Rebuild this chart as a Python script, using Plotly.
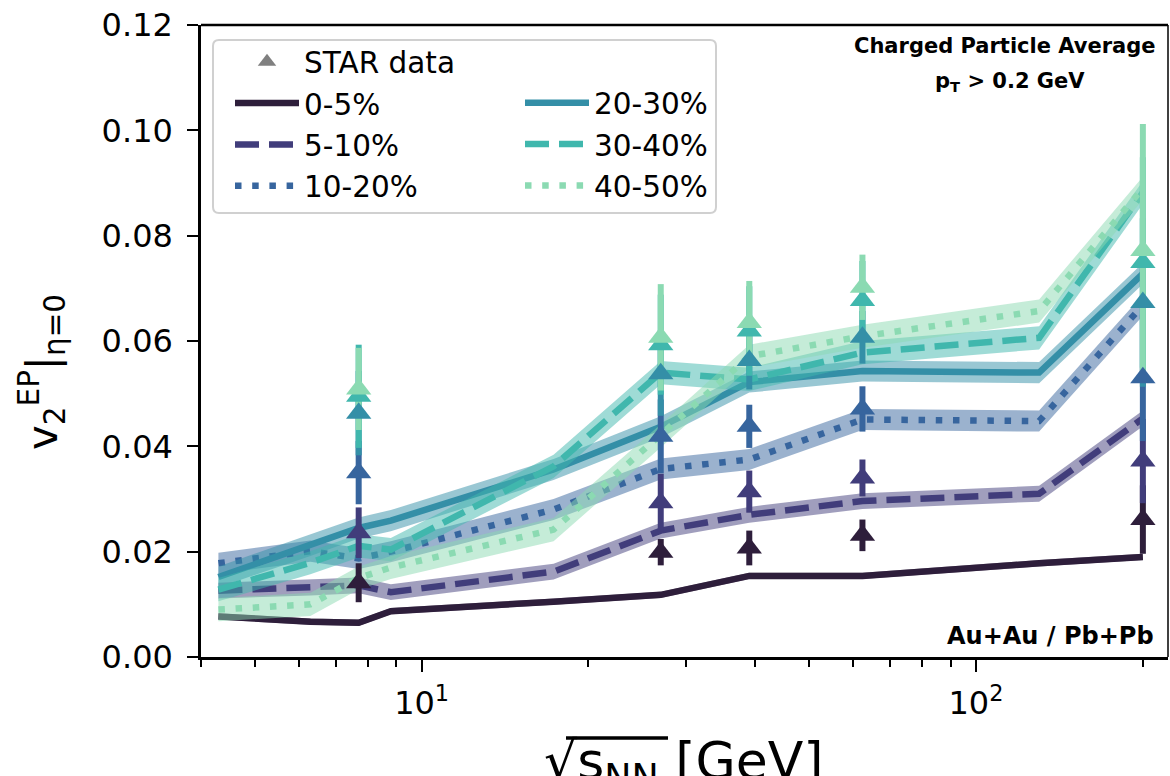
import plotly.graph_objects as go
import numpy as np

# ---------------- data ----------------
energy = [4.3, 6.3, 7.7, 8.8, 17.3, 27, 39, 62.4, 130, 200]
centralities = ["0-5%", "5-10%", "10-20%", "20-30%", "30-40%", "40-50%"]

model_0_5 = [0.0077, 0.0067, 0.0065, 0.0087, 0.0105, 0.0118, 0.0154, 0.0154, 0.0178, 0.0190]
model_5_10 = [0.0126, 0.0132, 0.0136, 0.0123, 0.0162, 0.0240, 0.0270, 0.0296, 0.0310, 0.0453]
model_10_20 = [0.0178, 0.0201, 0.0187, 0.0200, 0.0280, 0.0357, 0.0375, 0.0451, 0.0448, 0.0668]
model_20_30 = [0.0152, 0.0212, 0.0245, 0.0259, 0.0356, 0.0437, 0.0522, 0.0543, 0.0540, 0.0728]
model_30_40 = [0.0128, 0.0179, 0.0211, 0.0204, 0.0362, 0.0540, 0.0527, 0.0578, 0.0606, 0.0882]
model_40_50 = [0.0090, 0.0100, 0.0150, 0.0170, 0.0242, 0.0420, 0.0571, 0.0609, 0.0657, 0.0890]
model_band = [0.0006, 0.0015, 0.0020, 0.0020, 0.0022, 0.0022]

star_energy = [7.7, 27, 39, 62.4, 200]
star_0_5 = [0.0141, 0.0199, 0.0207, 0.0231, 0.0261]
star_5_10 = [0.0236, 0.0293, 0.0314, 0.0340, 0.0372]
star_10_20 = [0.0350, 0.0419, 0.0438, 0.0471, 0.0530]
star_20_30 = [0.0463, 0.0538, 0.0563, 0.0607, 0.0673]
star_30_40 = [0.0495, 0.0593, 0.0619, 0.0677, 0.0749]
star_40_50 = [0.0509, 0.0607, 0.0635, 0.0702, 0.0772]
star_err_0_5 = [0.0037, 0.0025, 0.0033, 0.0030, 0.0065]
star_err_5_10 = [0.0048, 0.0055, 0.0040, 0.0035, 0.0080]
star_err_10_20 = [0.0060, 0.0070, 0.0041, 0.0043, 0.0120]
star_err_20_30 = [0.0080, 0.0080, 0.0055, 0.0050, 0.0160]
star_err_30_40 = [0.0098, 0.0095, 0.0085, 0.0075, 0.0200]
star_err_40_50 = [0.0078, 0.0101, 0.0079, 0.0062, 0.0240]

y_ticks = [0.00, 0.02, 0.04, 0.06, 0.08, 0.10, 0.12]
x_ticks = [10, 100]
x_tick_text = ["10<sup>1</sup>", "10<sup>2</sup>"]
x_minor = [4, 5, 6, 7, 8, 9, 20, 30, 40, 50, 60, 70, 80, 90, 200]

models = [model_0_5, model_5_10, model_10_20, model_20_30, model_30_40, model_40_50]
stars = [star_0_5, star_5_10, star_10_20, star_20_30, star_30_40, star_40_50]
star_errs = [star_err_0_5, star_err_5_10, star_err_10_20, star_err_20_30, star_err_30_40, star_err_40_50]

# ---------------- style ----------------
colors = ['#2e1e3b', '#413d7b', '#37659e', '#348fa7', '#40b7ad', '#8bdab2']
dashes = ['solid', '24px,10px', '6.5px,10.7px', 'solid', '24px,10px', '6.5px,10.7px']
FONT = "DejaVu Sans"
W, H = 1170, 776
L, R, T, B = 201, 1168, 25, 657


def hex_rgba(h, a):
    h = h.lstrip('#')
    return f"rgba({int(h[0:2],16)},{int(h[2:4],16)},{int(h[4:6],16)},{a})"


def px(xp):
    return (xp - L) / (R - L)


def py(yp):
    return (B - yp) / (B - T)


fig = go.Figure()

# bands and lines
for i, (name, vals) in enumerate(zip(centralities, models)):
    hw = model_band[i]
    up = [v + hw for v in vals]
    lo = [v - hw for v in vals]
    fig.add_trace(go.Scatter(
        x=energy + energy[::-1], y=up + lo[::-1], fill='toself',
        fillcolor=hex_rgba(colors[i], 0.5), line=dict(width=0),
        mode='lines', hoverinfo='skip', showlegend=False))
    fig.add_trace(go.Scatter(
        x=energy, y=vals, mode='lines', name=name,
        line=dict(color=colors[i], width=6.5, dash=dashes[i]),
        legend='legend' if i < 3 else 'legend2',
        legendgroup=name, legendrank=10 + i))

# STAR error bars (below markers)
for i, (vals, errs) in enumerate(zip(stars, star_errs)):
    fig.add_trace(go.Scatter(
        x=star_energy, y=vals, mode='markers',
        marker=dict(size=1, color='rgba(0,0,0,0)'),
        error_y=dict(type='data', array=errs, color=colors[i], thickness=6, width=0),
        showlegend=False, hoverinfo='skip'))

# STAR markers
for i, vals in enumerate(stars):
    fig.add_trace(go.Scatter(
        x=star_energy, y=vals, mode='markers',
        marker=dict(symbol='triangle-up', size=22, color=colors[i], line=dict(width=0)),
        showlegend=False))

# legend entry for STAR data
fig.add_trace(go.Scatter(
    x=[None], y=[None], mode='markers', name='STAR data',
    marker=dict(symbol='triangle-up', size=24, color='#808080'),
    legend='legend', legendgroup='star', legendrank=1))

legend_common = dict(
    font=dict(family=FONT, size=29.5, color='black'),
    bgcolor='rgba(0,0,0,0)', borderwidth=0,
    xanchor='left', yanchor='top', tracegroupgap=0, itemwidth=64,
)

fig.update_layout(
    width=W, height=H,
    margin=dict(l=L, r=W - R, t=T, b=H - B, pad=0),
    paper_bgcolor='white', plot_bgcolor='white',
    font=dict(family=FONT, color='black'),
    legend=dict(x=px(230), y=py(36), **legend_common),
    legend2=dict(x=px(520), y=py(77), **legend_common),
    xaxis=dict(
        type='log', range=[np.log10(4), np.log10(222)],
        showgrid=False, zeroline=False,
        showline=True, linecolor='black', linewidth=2.5,
        ticks='outside', ticklen=12, tickwidth=2, tickcolor='black',
        tickmode='array', tickvals=x_ticks, ticktext=x_tick_text,
        tickfont=dict(family=FONT, size=32, color='black'),
        ticklabelstandoff=4,
        minor=dict(ticks='outside', ticklen=7, tickwidth=1.5, tickcolor='black',
                   tickmode='array', tickvals=x_minor, showgrid=False),
    ),
    yaxis=dict(
        range=[0, 0.12], showgrid=False, zeroline=False,
        showline=True, linecolor='black', linewidth=2.5,
        ticks='outside', ticklen=11, tickwidth=2, tickcolor='black',
        tickmode='array', tickvals=y_ticks, ticktext=[f"{v:.2f}" for v in y_ticks],
        tickfont=dict(family=FONT, size=32, color='black'),
        ticklabelstandoff=8,
    ),
)

shapes = [
    dict(type='line', xref='paper', yref='paper', x0=0, x1=1, y0=1, y1=1,
         line=dict(color='black', width=2.5)),
    dict(type='line', xref='paper', yref='paper', x0=1, x1=1, y0=0, y1=1,
         line=dict(color='black', width=1.5)),
]
# legend frame (rounded)
x0, x1, y0, y1 = px(213), px(716), py(213), py(40)
rx = 6 / (R - L)
ry = 6 / (B - T)
path = (f"M {x0+rx},{y0} L {x1-rx},{y0} Q {x1},{y0} {x1},{y0+ry} L {x1},{y1-ry} "
        f"Q {x1},{y1} {x1-rx},{y1} L {x0+rx},{y1} Q {x0},{y1} {x0},{y1-ry} "
        f"L {x0},{y0+ry} Q {x0},{y0} {x0+rx},{y0} Z")
shapes.append(dict(type='path', xref='paper', yref='paper', path=path,
                   line=dict(color='#d0d0d0', width=2), fillcolor='rgba(255,255,255,0.8)',
                   layer='below'))
# overline of the square root in the x title
shapes.append(dict(type='line', xref='paper', yref='paper',
                   x0=px(566), x1=px(668), y0=py(738), y1=py(738),
                   line=dict(color='black', width=3.5)))
fig.update_layout(shapes=shapes)

ann = [
    dict(text="<b>Charged Particle Average</b>", x=px(1005), y=py(46), xref='paper', yref='paper',
         xanchor='center', yanchor='middle', showarrow=False,
         font=dict(family=FONT, size=21, color='black')),
    dict(text="<b>p<sub>T</sub> > 0.2 GeV</b>", x=px(1010), y=py(82), xref='paper', yref='paper',
         xanchor='center', yanchor='middle', showarrow=False,
         font=dict(family=FONT, size=21, color='black')),
    dict(text="<b>Au+Au / Pb+Pb</b>", x=px(1156), y=py(636), xref='paper', yref='paper',
         xanchor='right', yanchor='middle', showarrow=False,
         font=dict(family=FONT, size=24, color='black')),
    dict(text="v<sub>2</sub><sup>EP</sup>|<sub>η=0</sub>", x=px(42), y=py(372), xref='paper', yref='paper',
         xanchor='center', yanchor='middle', showarrow=False, textangle=-90,
         font=dict(family=FONT, size=42, color='black')),
    dict(text="√s<sub>NN</sub> [GeV]", x=px(684), y=py(729), xref='paper', yref='paper',
         xanchor='center', yanchor='top', showarrow=False,
         font=dict(family=FONT, size=52, color='black')),
]
fig.update_layout(annotations=ann)

fig.write_html("out.html")
